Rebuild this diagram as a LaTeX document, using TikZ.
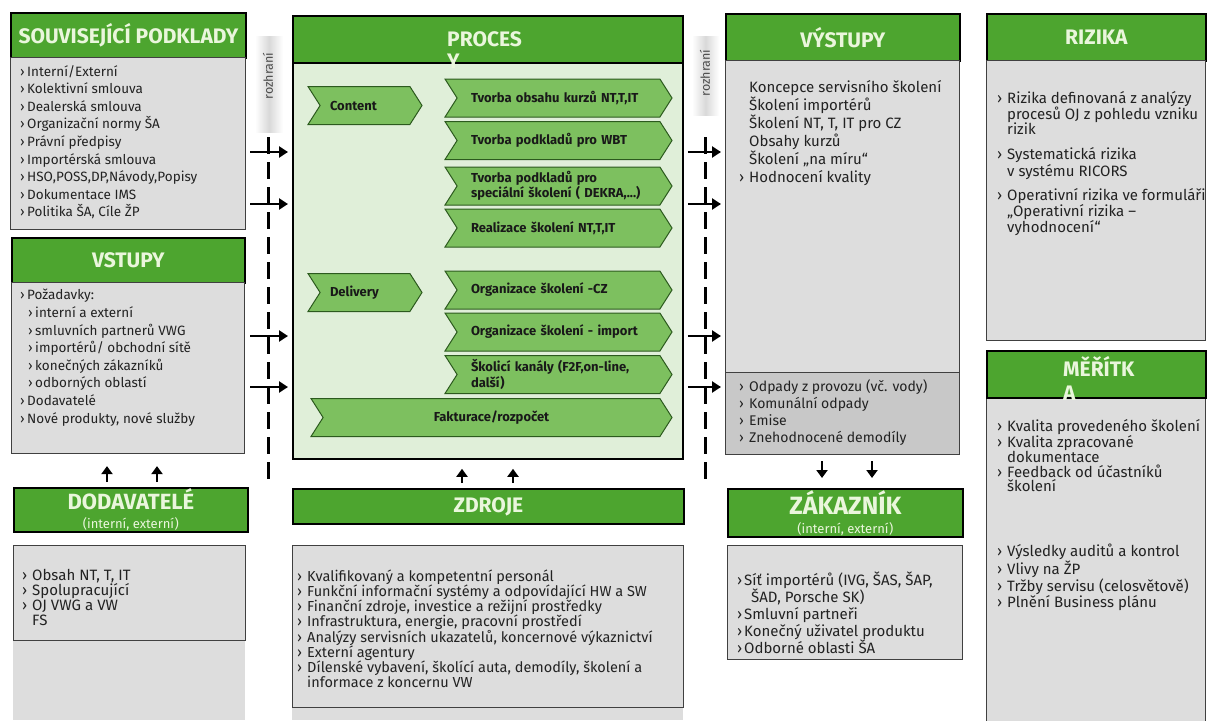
\documentclass[tikz,border=0pt]{standalone}
\usepackage{fontspec}
\setmainfont{Fira Sans}
\usetikzlibrary{positioning,shapes.symbols,arrows.meta}

\definecolor{hdgreen}{HTML}{4DA52F}
\definecolor{hdtext}{HTML}{EAF6DC}
\definecolor{procgreen}{HTML}{E0EFD9}
\definecolor{chevgreen}{HTML}{7DC05F}
\definecolor{chevline}{HTML}{2C5A1E}
\definecolor{boxgray}{HTML}{DDDDDD}
\definecolor{wastegray}{HTML}{C8C8C8}
\definecolor{bodytext}{HTML}{222222}

\newcommand{\bl}{\makebox[10pt][l]{›}}
\newcommand{\bs}{\makebox[7pt][l]{›}}
\newcommand{\subtext}{\fontsize{13}{14}\selectfont\mdseries}

\begin{document}
\begin{tikzpicture}[x=1pt,y=-1pt,
  every node/.style={inner sep=0pt},
  header/.style={draw=black,line width=1.8pt,fill=hdgreen,text=hdtext,anchor=north west,
    align=center,font=\fontsize{21}{22}\selectfont\bfseries},
  panel/.style={draw=black!75,line width=1.1pt,fill=boxgray,anchor=north west},
  list/.style={align=left,anchor=north west,text=bodytext,font=\fontsize{13.5}{17.6}\selectfont},
  biglist/.style={list,font=\fontsize{15}{15}\selectfont},
  chev/.style={signal,signal to=east,signal from=west,signal pointer angle=115,
    draw=chevline,line width=1pt,fill=chevgreen,minimum height=38,align=left,
    text=black!90,font=\fontsize{13}{15.5}\selectfont\bfseries},
  flow/.style={line width=2.6pt,-{Triangle[length=9pt,width=11pt]}},
  stub/.style={line width=2.4pt,-{Triangle[length=8pt,width=11pt]}},
  divider/.style={line width=3pt,dash pattern=on 17pt off 8pt}]

\useasboundingbox (0,0) rectangle (1209,720);

% left column
\node[header,minimum width=235,minimum height=45] (podklHd) at (10,12) {SOUVISEJÍCÍ PODKLADY};
\node[panel,minimum width=235,minimum height=172] (podklBody) at (10,57) {};
\node[list,below right=8pt and 10pt of podklBody.north west] (podklText) {%
\bs Interní/Externí\\ \bs Kolektivní smlouva\\ \bs Dealerská smlouva\\
\bs Organizační normy ŠA\\ \bs Právní předpisy\\ \bs Importérská smlouva\\
\bs HSO,POSS,DP,Návody,Popisy\\ \bs Dokumentace IMS\\ \bs Politika ŠA, Cíle ŽP};
\node[header,minimum width=233,minimum height=45] (vstupHd) at (11,237) {VSTUPY};
\node[panel,minimum width=233,minimum height=171] (vstupBody) at (11,282) {};
\node[list,below right=7pt and 9pt of vstupBody.north west] (vstupText) {%
\bs Požadavky:\\ \hspace*{8pt}\bs interní a externí\\ \hspace*{8pt}\bs smluvních partnerů VWG\\
\hspace*{8pt}\bs importérů/ obchodní sítě\\ \hspace*{8pt}\bs konečných zákazníků\\
\hspace*{8pt}\bs odborných oblastí\\ \bs Dodavatelé\\ \bs Nové produkty, nové služby};

\fill[boxgray] (13,640) rectangle (245,720);
\node[header,minimum width=234,minimum height=44,font=\fontsize{22}{22}\selectfont\bfseries] (dodavHd) at (13,487)
  {DODAVATELÉ\\[-3pt]{\subtext (interní, externí)}};
\node[panel,minimum width=232,minimum height=95] (dodavBody) at (13,545) {};
\node[biglist,below right=24pt and 9pt of dodavBody.north west] (dodavText) {%
\bl Obsah NT, T, IT\\ \bl Spolupracující\\ \bl OJ VWG a VW\\ \hspace*{10pt}FS};

% interface left
\shade[left color=white,right color=white,middle color=gray!30] (255,36) rectangle (283,132);
\node[rotate=90,text=black!70,font=\fontsize{12.5}{13}\selectfont] (rozhrL) at (268,76) {rozhraní};
\draw[divider] (268,137) -- (268,480);

% process
\node[panel,draw=black,line width=1.8pt,fill=procgreen,minimum width=390,minimum height=443] (procesy) at (292,15) {};
\node[header,minimum width=390,minimum height=47] (procHd) at (292,15) {};
\node[anchor=north west,align=left,text=hdtext,font=\fontsize{21}{22.5}\selectfont\bfseries] (procTitle) at (447,31) {PROCES\\Y};

\node[chev,minimum width=114,text width=70] (content) at (365,105.5) {Content};
\node[chev,minimum width=227,text width=175] (tvorbaObsah) at (558.5,98) {Tvorba obsahu kurzů NT,T,IT};
\node[chev,minimum width=227,text width=175] (tvorbaWbt) at (558.5,140.5) {Tvorba podkladů pro WBT};
\node[chev,minimum width=227,text width=175] (tvorbaSpec) at (558.5,186) {Tvorba podkladů pro\\speciální školení ( DEKRA,...)};
\node[chev,minimum width=227,text width=175] (realizace) at (558.5,228) {Realizace školení NT,T,IT};
\node[chev,minimum width=114,text width=70] (delivery) at (365,292.5) {Delivery};
\node[chev,minimum width=227,text width=175] (orgCz) at (558.5,290) {Organizace školení -CZ};
\node[chev,minimum width=227,text width=175] (orgImport) at (558.5,332) {Organizace školení - import};
\node[chev,minimum width=227,text width=175] (kanaly) at (558.5,374.5) {Školicí kanály (F2F,on-line,\\další)};
\node[chev,minimum width=361,align=center] (fakturace) at (491.5,417.5) {Fakturace/rozpočet};

\node[header,minimum width=391,minimum height=35] (zdrojeHd) at (292,488) {ZDROJE};
\fill[boxgray] (292,706) rectangle (683,720);
\node[panel,minimum width=391,minimum height=162] (zdrojeBody) at (292,545) {};
\node[biglist,font=\fontsize{14.5}{14.9}\selectfont,below right=25pt and 5pt of zdrojeBody.north west] (zdrojeText) {%
\bl Kvalifikovaný a kompetentní personál\\
\bl Funkční informační systémy a odpovídající HW a SW\\
\bl Finanční zdroje, investice a režijní prostředky\\
\bl Infrastruktura, energie, pracovní prostředí\\
\bl Analýzy servisních ukazatelů, koncernové výkaznictví\\
\bl Externí agentury\\
\bl Dílenské vybavení, školící auta, demodíly, školení a\\
\hspace*{10pt}informace z koncernu VW};

% interface right
\shade[left color=white,right color=white,middle color=gray!30] (692,36) rectangle (719,115);
\node[rotate=90,text=black!70,font=\fontsize{12.5}{13}\selectfont] (rozhrR) at (705,73) {rozhraní};
\draw[divider] (705,137) -- (705,480);

% outputs
\node[header,minimum width=234,minimum height=47] (vystHd) at (725,13) {VÝSTUPY};
\node[panel,minimum width=234,minimum height=394] (vystBody) at (725,60) {};
\node[panel,fill=wastegray,minimum width=234,minimum height=82] (odpadBody) at (725,372) {};
\node[list,font=\fontsize{15}{18}\selectfont,below right=20pt and 14pt of vystBody.north west] (vystText) {%
\hspace*{10pt}Koncepce servisního školení\\ \hspace*{10pt}Školení importérů\\
\hspace*{10pt}Školení NT, T, IT pro CZ\\ \hspace*{10pt}Obsahy kurzů\\
\hspace*{10pt}Školení „na míru“\\ \bl Hodnocení kvality};
\node[list,font=\fontsize{14}{17}\selectfont,below right=7pt and 14pt of odpadBody.north west] (odpadText) {%
\bl Odpady z provozu (vč. vody)\\ \bl Komunální odpady\\ \bl Emise\\ \bl Znehodnocené demodíly};

\node[header,minimum width=235,minimum height=48] (zakazHd) at (727,488)
  {{\fontsize{25}{25}\selectfont ZÁKAZNÍK}\\[-3pt]{\subtext (interní, externí)}};
\node[panel,minimum width=235,minimum height=114] (zakazBody) at (727,545) {};
\node[list,font=\fontsize{15}{17}\selectfont,below right=27pt and 10pt of zakazBody.north west] (zakazText) {%
\bs Síť importérů (IVG, ŠAS, ŠAP,\\ \hspace*{14pt}ŠAD, Porsche SK)\\ \bs Smluvní partneři\\
\bs Konečný uživatel produktu\\ \bs Odborné oblasti ŠA};

% risks and measures
\node[header,minimum width=219,minimum height=47] (rizikaHd) at (986,13) {RIZIKA};
\node[panel,minimum width=219,minimum height=280] (rizikaBody) at (986,60) {};
\node[biglist,below right=31pt and 11pt of rizikaBody.north west] (rizikaText) {%
\bl Rizika definovaná z analýzy\\ \hspace*{10pt}procesů OJ z pohledu vzniku\\ \hspace*{10pt}rizik\\[10pt]
\bl Systematická rizika\\ \hspace*{10pt}v systému RICORS\\[8pt]
\bl Operativní rizika ve formuláři\\ \hspace*{10pt}„Operativní rizika –\\ \hspace*{10pt}vyhodnocení“};

\node[panel,minimum width=219,minimum height=340] (meritkaBody) at (986,397) {};
\node[header,minimum width=219,minimum height=47] (meritkaHd) at (986,350) {};
\node[anchor=north west,align=left,text=hdtext,font=\fontsize{21}{24}\selectfont\bfseries] (meritkaTitle) at (1063,356) {MĚŘÍTK\\A};
\node[biglist,font=\fontsize{15}{14.8}\selectfont,below right=22pt and 11pt of meritkaBody.north west] (meritkaText) {%
\bl Kvalita provedeného školení\\ \bl Kvalita zpracované\\ \hspace*{10pt}dokumentace\\
\bl Feedback od účastníků\\ \hspace*{10pt}školení\\[50pt]
\bl Výsledky auditů a kontrol\\ \bl Vlivy na ŽP\\ \bl Tržby servisu (celosvětově)\\ \bl Plnění Business plánu};

% flows
\foreach \y [count=\i] in {152,204,336,387} {
  \coordinate (inL\i) at (250,\y);
  \draw[flow,shorten >=4pt] (inL\i) -- (inL\i -| procesy.west);
  \coordinate (outR\i) at (721,\y);
  \draw[flow,shorten <=4pt] (outR\i -| procesy.east) -- (outR\i);
}
\foreach \x in {107,157}
  \draw[stub,shorten <=5pt,shorten >=12pt] (dodavHd.north -| \x,0) -- (vstupBody.south -| \x,0);
\foreach \x in {462,513}
  \draw[stub,shorten <=5pt,shorten >=9pt] (zdrojeHd.north -| \x,0) -- (procesy.south -| \x,0);
\foreach \x in {822,872}
  \draw[stub,shorten <=6pt,shorten >=10pt] (vystBody.south -| \x,0) -- (zakazHd.north -| \x,0);
\end{tikzpicture}
\end{document}
